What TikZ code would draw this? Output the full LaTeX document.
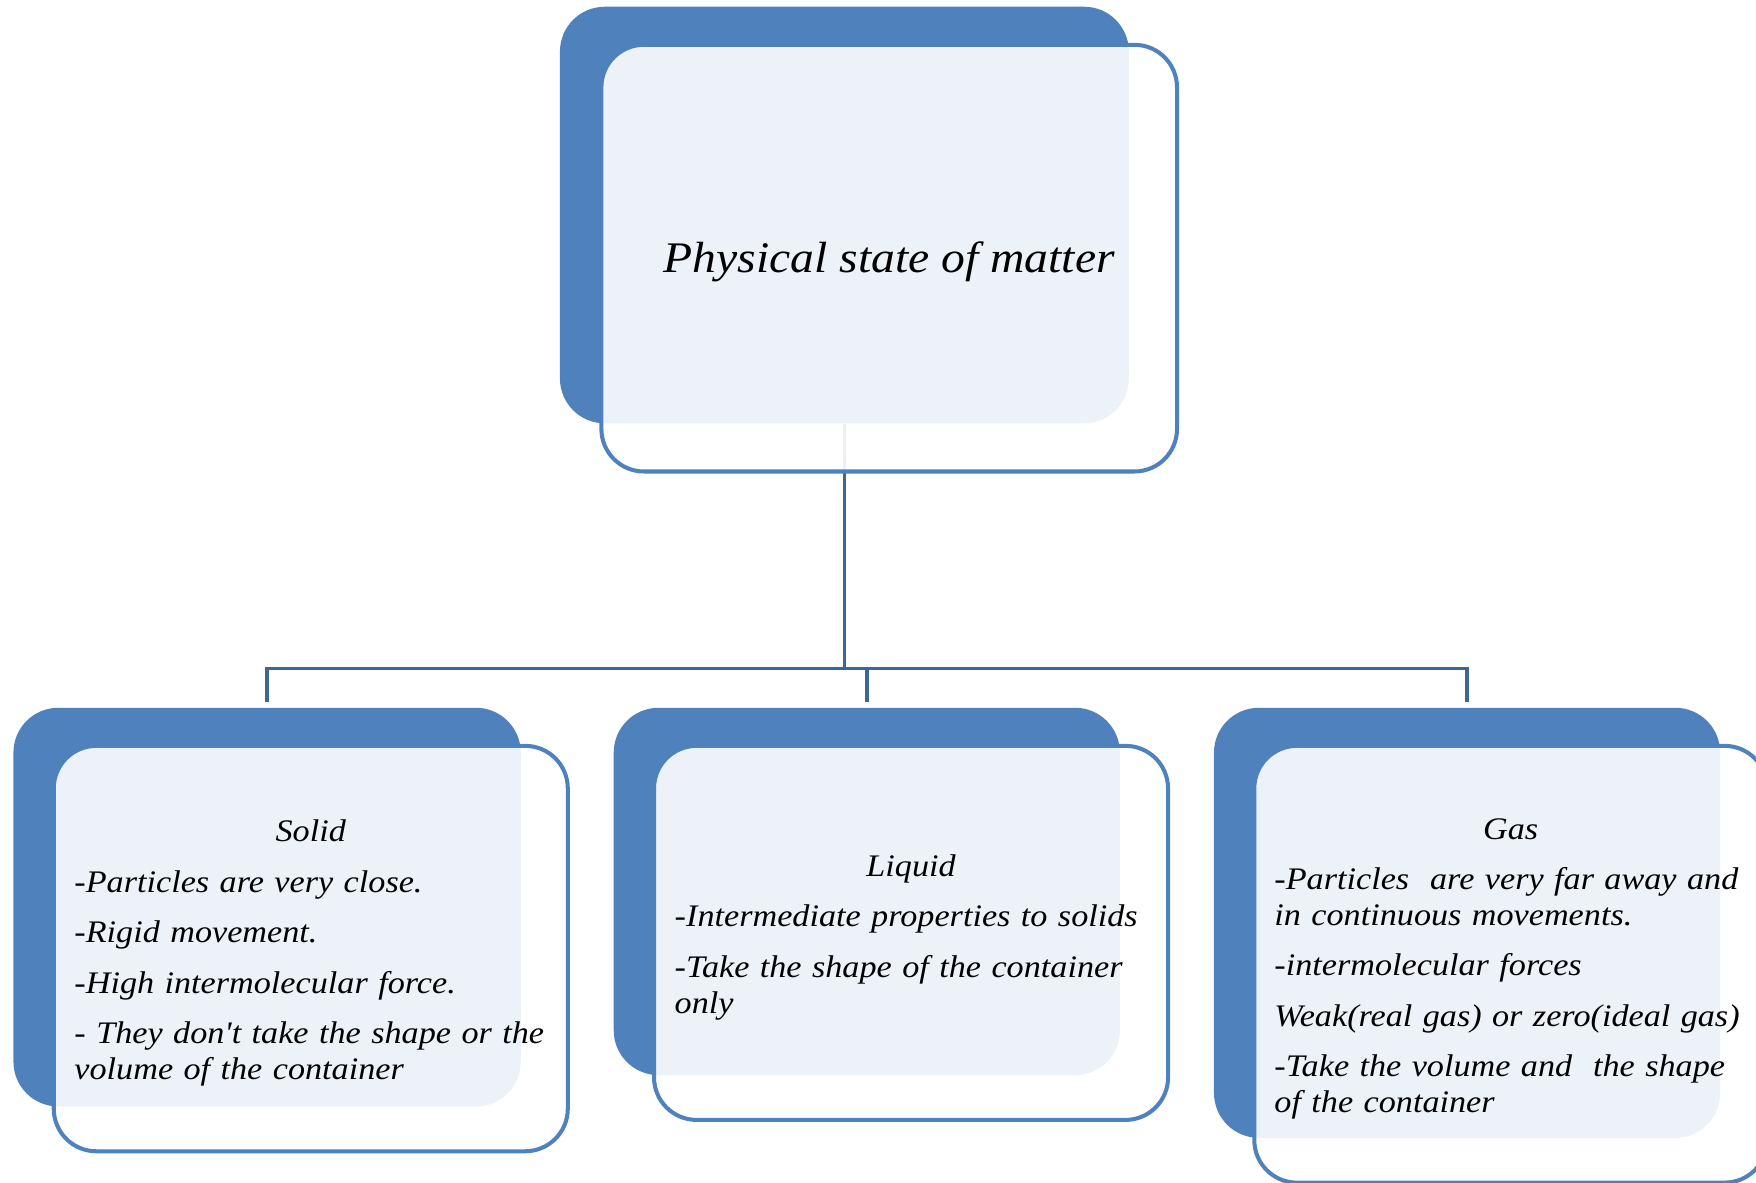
\documentclass[tikz,border=0pt]{standalone}
\usepackage{fontspec}
\newfontfamily\boxfont{Liberation Serif}[FakeStretch=1.09]
\usepackage{xcolor}
\usepackage{tikz}
\usetikzlibrary{calc}

\definecolor{boxblue}{RGB}{79,129,189}
\definecolor{linkblue}{RGB}{62,102,150}

\begin{document}
\begin{tikzpicture}[x=0.5pt, y=-0.5pt,
    back/.style={fill=boxblue, rounded corners=20pt, inner sep=0pt},
    front/.style={draw=boxblue, line width=1.8pt, fill=white, fill opacity=0.9,
        rounded corners=19pt, inner sep=0pt},
    body/.style={text width=211pt, inner sep=0pt, font=\boxfont\itshape\fontsize{14}{16}\selectfont,
        execute at begin node={\setlength{\parindent}{0pt}\setlength{\parskip}{6.5pt}\raggedright}},
    link/.style={draw=linkblue, line width=1.6pt}]

    \useasboundingbox (0,0) rectangle (1568,1056);

    % 背景框
    \node[back, minimum width=254pt, minimum height=186pt] (topbg) at (754,192) {};
    \node[back, minimum width=226.5pt, minimum height=178pt] (solidbg) at (238.5,810) {};
    \node[back, minimum width=226pt, minimum height=164pt] (liquidbg) at (774,796) {};
    \node[back, minimum width=226pt, minimum height=192pt] (gasbg) at (1310,824) {};

    % 连线
    \coordinate (bus) at (754,597);
    \draw[link] (topbg.south) -- (bus);
    \foreach \b in {solidbg, liquidbg, gasbg}
        \draw[link] (bus) -| ([yshift=2.5pt]\b.north);

    % 前景框
    \node[front, minimum width=257pt, minimum height=190.5pt] (top) at (794,230.5) {};
    \node[front, minimum width=229.5pt, minimum height=181pt] (solid) at (277.5,847) {};
    \node[front, minimum width=229.5pt, minimum height=167pt] (liquid) at (813.5,833) {};
    \node[front, minimum width=229pt, minimum height=195pt] (gas) at (1349,861) {};

    % 文字
    \node[font=\boxfont\itshape\fontsize{19.5}{22}\selectfont, inner sep=0pt]
        (toptext) at ([yshift=-1.5pt]top.center) {Physical state of matter};

    \node[body] (solidtext) at ([yshift=-2pt]solid.center) {%
        {\centering Solid\par}
        -Particles are very close.\par
        -Rigid movement.\par
        -High intermolecular force.\par
        - They don't take the shape or the\\
        volume of the container};

    \node[body] (liquidtext) at ([yshift=-2pt]liquid.center) {%
        {\centering Liquid\par}
        -Intermediate properties to solids\par
        -Take the shape of the container\\
        only};

    \node[body] (gastext) at ([yshift=-2pt]gas.center) {%
        {\centering Gas\par}
        -Particles~ are very far away and\\
        in continuous movements.\par
        -intermolecular forces\par
        Weak(real gas) or zero(ideal gas)\par
        -Take the volume and~ the shape\\
        of the container};
\end{tikzpicture}
\end{document}
